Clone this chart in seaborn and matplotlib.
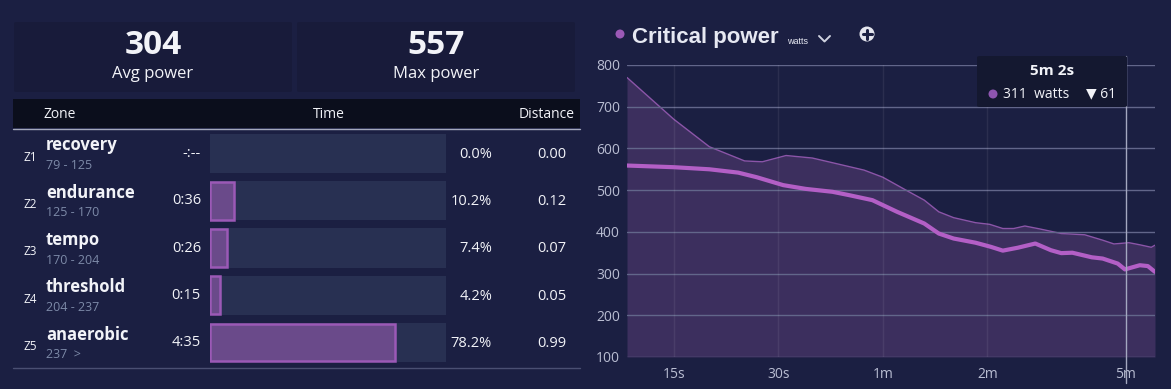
import numpy as np
import pandas as pd
import seaborn as sns
import matplotlib
matplotlib.use("Agg")
import matplotlib.pyplot as plt
from matplotlib.patches import FancyBboxPatch, Rectangle, Ellipse
from matplotlib.lines import Line2D

# ---- data ----
stat_values = ["304", "557"]
stat_labels = ["Avg power", "Max power"]

zone_ids = ["Z1", "Z2", "Z3", "Z4", "Z5"]
zone_names = ["recovery", "endurance", "tempo", "threshold", "anaerobic"]
zone_ranges = ["79 - 125", "125 - 170", "170 - 204", "204 - 237", "237  >"]
zone_times = ["-:--", "0:36", "0:26", "0:15", "4:35"]
zone_pct = [0.0, 10.2, 7.4, 4.2, 78.2]
zone_dist = ["0.00", "0.12", "0.07", "0.05", "0.99"]

# critical power curve (seconds, watts)
cp_secs = [11, 15, 19, 23, 26, 31, 36, 43, 48, 56, 66, 79, 87, 96, 111, 123, 133,
           147, 165, 183, 196, 211, 240, 258, 285, 299, 330, 348, 365]
cp_watts = [559, 555, 550, 542, 531, 512, 503, 496, 488, 476, 448, 420, 396, 384,
            374, 364, 355, 362, 372, 356, 349, 350, 339, 336, 324, 310, 320, 318, 304]
# best (upper envelope) curve
best_secs = [11, 15, 19, 24, 27, 31.6, 37.6, 46, 53, 60, 70, 79, 87, 96, 111, 122,
             133, 143, 154, 170, 196, 229, 258, 278, 307, 330, 356, 365]
best_watts = [770, 670, 604, 570, 568, 583, 577, 560, 548, 531, 500, 476, 448, 434,
              422, 418, 408, 408, 414, 407, 396, 393, 380, 371, 374, 369, 363, 368]

x_ticks = [15, 30, 60, 120, 300]
x_tick_labels = ["15s", "30s", "1m", "2m", "5m"]
y_ticks = [100, 200, 300, 400, 500, 600, 700, 800]

cursor_label = "5m 2s"
cursor_secs = 302
cursor_watts = "311"
cursor_diff = "61"

# ---- style ----
BG = "#1b1f42"
BOX = "#181b3a"
HEAD = "#0b0e1c"
TRACK = "#283052"
FILL = "#6a4a8a"
EDGE = "#9b59b6"
AREA = "#3c2f5e"
AREA_EDGE = "#8b55a8"
LINE = "#b35fc6"
WHITE = "#f2f3f8"
GRAY = "#7d8aa8"
TICK = "#b9bdd2"

sns.set_theme(style="dark")
plt.rcParams["font.family"] = ["Open Sans", "DejaVu Sans"]

W, H = 1171, 389
fig = plt.figure(figsize=(W / 100, H / 100), dpi=100, facecolor=BG)


def fx(x):
    return x / W


def fy(y):
    return 1 - y / H


def add_px_axes(x0, y0, x1, y1):
    return fig.add_axes([fx(x0), fy(y1), (x1 - x0) / W, (y1 - y0) / H])


def text(x, y, s, **kw):
    kw.setdefault("color", WHITE)
    kw.setdefault("va", "center")
    fig.text(fx(x), fy(y), s, **kw)


def dot(x, y, d, color, z=1):
    fig.patches.append(Ellipse((fx(x), fy(y)), d / W, d / H, transform=fig.transFigure,
                               facecolor=color, edgecolor="none", zorder=z))


# ---- stat boxes ----
for i, (v, lab) in enumerate(zip(stat_values, stat_labels)):
    x0 = 14 + i * 283
    fig.patches.append(FancyBboxPatch((fx(x0), fy(92)), 278 / W, 70 / H,
                                      boxstyle="round,pad=0,rounding_size=0.003",
                                      transform=fig.transFigure, facecolor=BOX,
                                      edgecolor="none"))
    text(x0 + 139, 46, v, ha="center", fontsize=24, fontweight="bold")
    text(x0 + 139, 74, lab, ha="center", fontsize=12)

# ---- table header ----
fig.patches.append(Rectangle((fx(13), fy(128)), 567 / W, 29 / H,
                             transform=fig.transFigure, facecolor=HEAD, edgecolor="none"))
fig.lines.append(Line2D([fx(13), fx(580)], [fy(129), fy(129)], transform=fig.transFigure,
                        color="#a4a8bc", lw=1))
fig.lines.append(Line2D([fx(13), fx(580)], [fy(367.5), fy(367.5)], transform=fig.transFigure,
                        color="#4a4f72", lw=1))
text(43, 115, "Zone", fontsize=10)
text(329, 115, "Time", ha="center", fontsize=10)
text(575, 115, "Distance", ha="right", fontsize=10)

# ---- zone bars ----
zdf = pd.DataFrame({"zone": zone_names, "pct": zone_pct, "full": [100] * len(zone_names)})
bax = add_px_axes(210, 130, 446, 366)
sns.barplot(data=zdf, x="full", y="zone", orient="h", color=TRACK, width=0.83,
            saturation=1, linewidth=0, ax=bax)
sns.barplot(data=zdf[zdf.pct > 0], x="pct", y="zone", orient="h", color=FILL, width=0.8,
            saturation=1, edgecolor=EDGE, linewidth=1.8, ax=bax)
bax.set_xlim(0, 100)
bax.set_ylim(4.5, -0.5)
bax.set_axis_off()

for i in range(len(zone_names)):
    yc = 153.5 + 47.25 * i
    text(24, yc + 4, zone_ids[i], fontsize=8.5)
    text(46, yc - 8, zone_names[i], fontsize=12, fontweight="bold")
    text(46, yc + 12, zone_ranges[i], fontsize=9, color=GRAY)
    text(201, yc, zone_times[i], ha="right", fontsize=10.5)
    text(492, yc + 1, f"{zone_pct[i]:.1f}%", ha="right", fontsize=10.5)
    text(566, yc + 1, zone_dist[i], ha="right", fontsize=10.5)

# ---- critical power chart ----
ax = add_px_axes(627, 65, 1155, 357)
ax.set_facecolor(BG)
ax.set_xscale("log")
ax.fill_between(best_secs, best_watts, 100, color=AREA, lw=0, zorder=1)
ax.plot(best_secs, best_watts, color=AREA_EDGE, lw=1, zorder=2)
cp = pd.DataFrame({"secs": cp_secs, "watts": cp_watts})
sns.lineplot(data=cp, x="secs", y="watts", color=LINE, lw=3, ax=ax, zorder=4)
for yt in y_ticks:
    ax.axhline(yt, color="#62668a", lw=1, zorder=3)
for xt in x_ticks[:-1]:
    ax.axvline(xt, color="#ffffff", alpha=0.07, lw=1, zorder=3)
ax.axvline(cursor_secs, ymin=-0.09, ymax=1.03, color="#a4a8c0", lw=1, zorder=5,
           clip_on=False)
ax.set_xlim(11, 365)
ax.set_ylim(100, 800)
ax.set_xticks(x_ticks)
ax.set_xticklabels(x_tick_labels)
ax.set_xticks([], minor=True)
ax.set_yticks(y_ticks)
ax.tick_params(axis="both", length=0, colors=TICK, labelsize=10)
ax.tick_params(axis="x", pad=7)
ax.tick_params(axis="y", pad=5)
ax.set_xlabel("")
ax.set_ylabel("")
ax.grid(False)
for s in ax.spines.values():
    s.set_visible(False)

# title
dot(620, 34, 9, EDGE)
text(632, 37, "Critical power", fontsize=16, fontweight="bold", color="#e6e8f2",
     family=["Liberation Sans", "DejaVu Sans"])
text(787, 42, "watts", fontsize=6.5, color="#e6e8f2",
     family=["Liberation Sans", "DejaVu Sans"])
fig.lines.append(Line2D([fx(819), fx(824.5), fx(830)], [fy(36), fy(41.5), fy(36)],
                        transform=fig.transFigure, color="#d0d3e0", lw=1.4))
dot(867, 34, 15, "#e4e5ee")
fig.lines.append(Line2D([fx(862.5), fx(871.5)], [fy(34), fy(34)],
                        transform=fig.transFigure, color=BG, lw=2.2))
fig.lines.append(Line2D([fx(867), fx(867)], [fy(29.5), fy(38.5)],
                        transform=fig.transFigure, color=BG, lw=2.2))

# tooltip
fig.patches.append(FancyBboxPatch((fx(977), fy(107)), 150 / W, 51 / H,
                                  boxstyle="round,pad=0,rounding_size=0.003",
                                  transform=fig.transFigure, facecolor="#141830",
                                  edgecolor="none", zorder=10))
text(1052, 71, cursor_label, ha="center", fontsize=11, fontweight="bold", zorder=11)
dot(993, 94, 9, "#8e55b0", z=11)
text(1003, 94, f"{cursor_watts}  watts", fontsize=10, zorder=11)
text(1086, 94, f"\u25BC {cursor_diff}", fontsize=10, zorder=11,
     family=["Open Sans", "DejaVu Sans"])

fig.savefig("out.png", dpi=100, facecolor=BG)
